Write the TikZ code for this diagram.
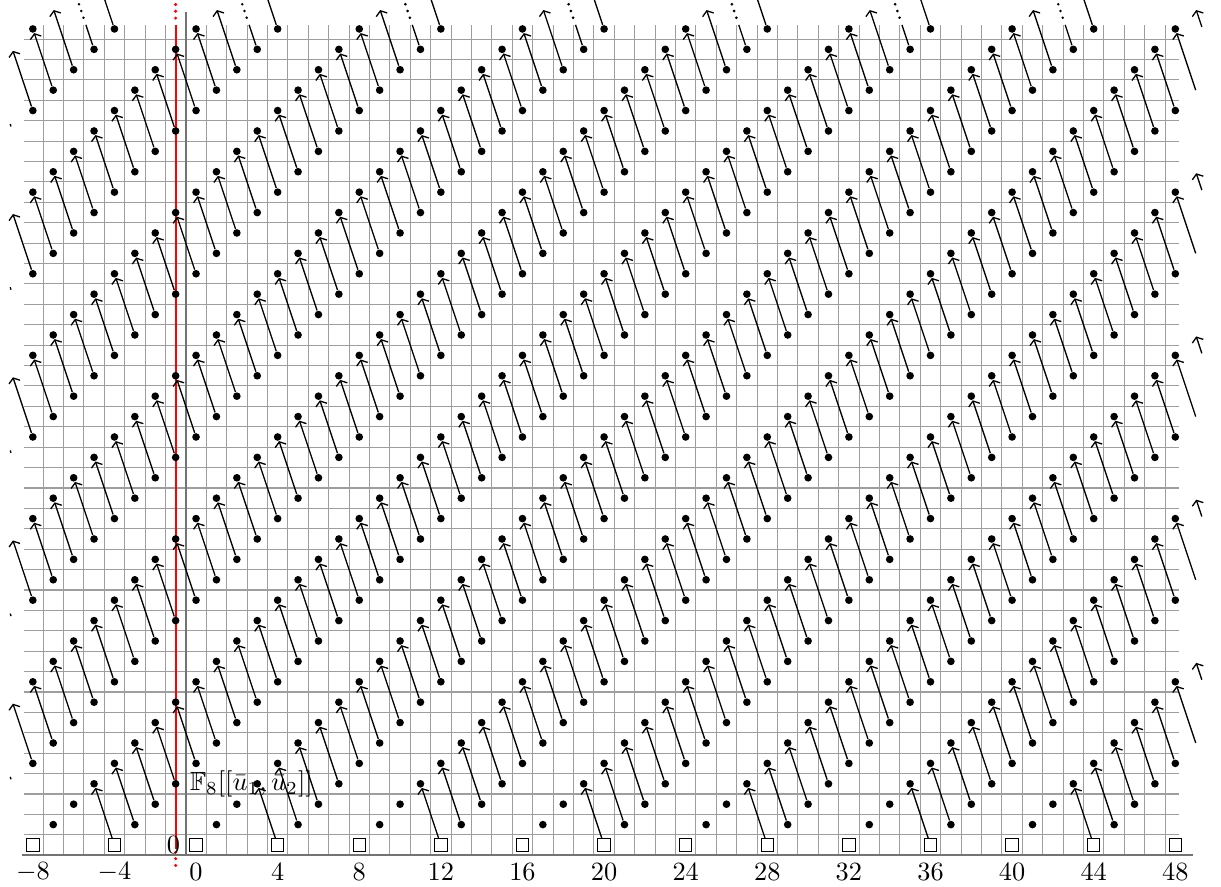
\documentclass[tikz,border=0pt]{standalone}
\usepackage{amssymb}
\usetikzlibrary{arrows.meta}
\pgfdeclarelayer{bg}
\pgfdeclarelayer{edgelayer}
\pgfsetlayers{bg,edgelayer,main}
\begin{document}
\begin{tikzpicture}[x=7.75pt,y=7.75pt,
  gridline/.style={draw=black!38,line width=0.4pt},
  axisline/.style={draw=black!55,line width=0.9pt},
  dotcls/.style={circle,fill=black,inner sep=0pt,minimum size=2.9pt},
  boxcls/.style={rectangle,draw=black,fill=white,line width=0.4pt,inner sep=0pt,minimum size=4.7pt},
  dline/.style={line width=0.5pt,black},
  darrow/.style={dline,-{Straight Barb[length=1.6pt,width=4.4pt]}},
  tinydot/.style={circle,fill=black,inner sep=0pt,minimum size=1.1pt},
  reddot/.style={circle,fill=red,inner sep=0pt,minimum size=1.3pt},
  redline/.style={draw=red,line width=0.7pt},
  ticklabel/.style={inner sep=0pt}
]
\useasboundingbox (-9.61,-2.01) rectangle (50.24,41.42);

% classes
\foreach \d in {-48,-44,...,48}{%
  \foreach \y in {0,...,40}{%
    \pgfmathtruncatemacro\xx{\d+\y}%
    \ifnum\xx<-8 \else\ifnum\xx>48 \else
      \ifnum\y=0
        \node[boxcls] (c\xx_\y) at (\xx,\y) {};
      \else
        \node[dotcls] (c\xx_\y) at (\xx,\y) {};
      \fi
    \fi\fi
  }%
}

% background: grid, axes, red line, labels
\begin{pgfonlayer}{bg}
\foreach \gx in {-7.5,-6.5,...,47.6}{\draw[gridline] (\gx,-0.5) -- (\gx,40.2);}
\foreach \gy in {0.5,1.5,...,39.6}{\draw[gridline] (-8.43,\gy) -- (48.2,\gy);}
\coordinate (xa0) at (-8.55,-0.5);
\coordinate (xa1) at (48.87,-0.5);
\coordinate (ya0) at (-0.5,-0.5);
\coordinate (ya1) at (-0.5,40.85);
\draw[axisline] (xa0) -- (xa1);
\draw[axisline] (ya0) -- (ya1);
\coordinate (ra0) at (-1,-0.2);
\coordinate (ra1) at (-1,40.2);
\draw[redline] (ra0) -- (ra1);
\node[reddot] (rd1) at (-1,40.53) {};
\node[reddot] (rd2) at (-1,40.87) {};
\node[reddot] (rd3) at (-1,41.2) {};
\node[reddot] (rd4) at (-1,-0.36) {};
\node[reddot] (rd5) at (-1,-0.67) {};
\node[reddot] (rd6) at (-1,-1.0) {};
\foreach \tx in {-8,-4,...,48}{\node[ticklabel] (tick\tx) at (\tx,-1.31) {$\tx$};}
\node[ticklabel] (ylab0) at (-1.11,0) {$0$};
\node[anchor=west,inner sep=0pt] (ringlabel) at (-0.32,3) {$\mathbb{F}_8[[\bar{u}_1,\bar{u}_2]]$};
\end{pgfonlayer}

% differentials
\begin{pgfonlayer}{edgelayer}
\foreach \d in {-52,-44,...,52}{%
  \foreach \y in {0,...,40}{%
    \pgfmathtruncatemacro\xx{\d+\y}%
    \pgfmathtruncatemacro\tx{\xx-1}%
    \pgfmathtruncatemacro\ty{\y+3}%
    \ifnum\y<38
      \ifnum\xx>-8 \ifnum\xx<49
        \draw[darrow] (c\xx_\y) -- (c\tx_\ty);
      \fi\fi
      \ifnum\xx=-8
        \coordinate (f\xx_\y) at (\tx,\ty);
        \draw[darrow,shorten >=0.6pt] (c\xx_\y) -- (f\xx_\y);
      \fi
      \ifnum\xx=-9
        \coordinate (s\xx_\y) at (-9.07,\y+0.22);
        \coordinate (f\xx_\y) at (-9.11,\y+0.34);
        \draw[dline] (s\xx_\y) -- (f\xx_\y);
      \fi
      \ifnum\xx=49
        \coordinate (s\xx_\y) at (49,\y);
        \draw[darrow] (s\xx_\y) -- (c\tx_\ty);
      \fi
      \ifnum\xx=50
        \coordinate (s\xx_\y) at (49.3,\y+2.1);
        \coordinate (f\xx_\y) at (49,\ty);
        \draw[darrow,shorten >=0.6pt] (s\xx_\y) -- (f\xx_\y);
      \fi
    \else
      \ifnum\y=38
        \ifnum\xx>-9 \ifnum\xx<49
          \coordinate (f\xx_\y) at (\tx,41);
          \draw[darrow,shorten >=0.6pt] (c\xx_\y) -- (f\xx_\y);
        \fi\fi
        \ifnum\xx=50
          \coordinate (s\xx_\y) at (49.3,40.1);
          \coordinate (f\xx_\y) at (49,41);
          \draw[darrow,shorten >=0.6pt] (s\xx_\y) -- (f\xx_\y);
        \fi
      \fi
      \ifnum\y=39
        \ifnum\xx>-9 \ifnum\xx<49
          \coordinate (f\xx_\y) at (\xx-0.4,40.2);
          \draw[dline] (c\xx_\y) -- (f\xx_\y);
          \node[tinydot] (p\xx a) at (\xx-0.517,40.55) {};
          \node[tinydot] (p\xx b) at (\xx-0.627,40.88) {};
          \node[tinydot] (p\xx c) at (\xx-0.737,41.21) {};
        \fi\fi
      \fi
      \ifnum\y=40
        \ifnum\xx>-9 \ifnum\xx<49
          \coordinate (f\xx_\y) at (\xx-0.473,41.42);
          \draw[dline] (c\xx_\y) -- (f\xx_\y);
        \fi\fi
      \fi
    \fi
  }%
}
\end{pgfonlayer}
\end{tikzpicture}
\end{document}
